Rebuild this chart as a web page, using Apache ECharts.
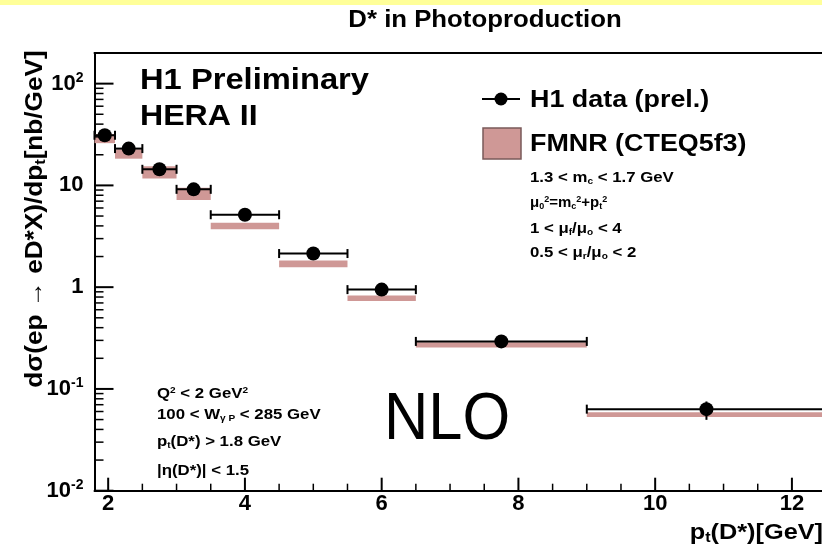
<!DOCTYPE html>
<html><head><meta charset="utf-8">
<script src="https://cdn.jsdelivr.net/npm/echarts@6/dist/echarts.min.js"></script>
<style>html,body{margin:0;padding:0;background:#fff}#c{width:822px;height:550px}</style>
</head><body><div id="c"></div>
<script>
// ---- data ----
const binLow    = [1.8, 2.1, 2.5, 3.0, 3.5, 4.5, 5.5, 6.5, 9.0];
const binHigh   = [2.1, 2.5, 3.0, 3.5, 4.5, 5.5, 6.5, 9.0, 12.5];
const ptCenter  = [1.95, 2.3, 2.75, 3.25, 4.0, 5.0, 6.0, 7.75, 10.75];
const h1Value   = [31.1, 23.0, 14.4, 9.15, 5.15, 2.14, 0.946, 0.293, 0.0633];
const h1ErrLow  = [2.0, 1.4, 0.9, 0.55, 0.3, 0.13, 0.06, 0.02, 0.0136];
const h1ErrHigh = [2.0, 1.4, 0.9, 0.55, 0.3, 0.13, 0.06, 0.02, 0.012];
const nloLow    = [26.0, 18.3, 11.7, 7.2, 3.7, 1.57, 0.73, 0.256, 0.053];
const nloHigh   = [32.0, 22.6, 15.4, 9.5, 4.3, 1.83, 0.83, 0.288, 0.059];
const xMajorTicks = [2, 4, 6, 8, 10, 12];
const xMinorTicks = [2.5, 3, 3.5, 4.5, 5, 5.5, 6.5, 7, 7.5, 8.5, 9, 9.5, 10.5, 11, 11.5];
const yDecades = [-2, -1, 0, 1, 2];
const yMinorMult = [2, 3, 4, 5, 6, 7, 8, 9];
const xMin = 1.8, xMax = 12.44, yMin = 0.01, yMax = 200;

const L = Math.log10;
const yMinorTicks = [];
yDecades.forEach(d => yMinorMult.forEach(m => { const v = L(m) + d; if (v < L(yMax)) yMinorTicks.push(v); }));

const FONT = '"Liberation Sans", Arial, Helvetica, sans-serif';
const BAND = '#cf9896';

const errData = ptCenter.map((c, i) => [binLow[i], binHigh[i], c, L(h1Value[i]), L(h1Value[i] - h1ErrLow[i]), L(h1Value[i] + h1ErrHigh[i])]);
const bandData = ptCenter.map((c, i) => [binLow[i], binHigh[i], L(nloLow[i]), L(nloHigh[i])]);
const pointData = ptCenter.map((c, i) => [c, L(h1Value[i])]);

// tick rows: [x, y, kind]; kind 1/2 = x major/minor, 3/4 = y major/minor (positions taken at interior values)
const tickRows = [];
xMajorTicks.forEach(v => tickRows.push([v, 0, 1]));
xMinorTicks.forEach(v => tickRows.push([v, 0, 2]));
yDecades.forEach(v => tickRows.push([5, v, 3]));
yMinorTicks.forEach(v => tickRows.push([5, v, 4]));
const TICK = { 1: [13, 2], 2: [7, 1.5], 3: [19, 2], 4: [9, 1.5] };

function txt(x, y, text, size, opts) {
  opts = opts || {};
  const s = opts.small || Math.round(size * 0.62);
  return {
    type: 'text', x: x, y: y, z: 100,
    scaleX: opts.sx || 1, scaleY: opts.sy || 1, rotation: opts.rot || 0,
    style: {
      text: text, fill: '#000',
      font: (opts.weight || 'bold') + ' ' + size + 'px ' + FONT,
      align: opts.align || 'left', textAlign: opts.align || 'left',
      verticalAlign: 'middle', textVerticalAlign: 'middle',
      rich: {
        sub: { fontSize: s, fontWeight: opts.weight || 'bold', fontFamily: FONT, padding: [Math.round(size * 0.45), 0, 0, 0] },
        sup: { fontSize: s, fontWeight: opts.weight || 'bold', fontFamily: FONT, padding: [0, 0, Math.round(size * 0.45), 0] }
      }
    }
  };
}

const chart = echarts.init(document.getElementById('c'));
const axisLine = { show: true, onZero: false, lineStyle: { color: '#000', width: 2 } };
chart.setOption({
  animation: false,
  grid: { left: 94.5, right: 0, top: 53, bottom: 59.3, show: false },
  xAxis: [
    { type: 'value', min: xMin, max: xMax, position: 'bottom', axisLine: axisLine, splitLine: { show: false },
      axisTick: { show: false },
      axisLabel: { customValues: xMajorTicks, margin: 2, color: '#000', fontSize: 22, fontWeight: 'bold', fontFamily: FONT } },
    { type: 'value', min: xMin, max: xMax, position: 'top', axisLine: axisLine, splitLine: { show: false },
      axisTick: { show: false }, axisLabel: { show: false } }
  ],
  yAxis: { type: 'value', min: L(yMin), max: L(yMax), position: 'left', axisLine: axisLine, splitLine: { show: false },
    axisTick: { show: false },
    axisLabel: { customValues: yDecades, margin: 11, color: '#000', fontSize: 22, fontWeight: 'bold', fontFamily: FONT,
      formatter: v => v === 0 ? '1' : (v === 1 ? '10' : '10{sup|' + v + '}'),
      rich: { sup: { fontSize: 14, fontWeight: 'bold', fontFamily: FONT, color: '#000', padding: [0, 0, 11, 0] } } } },
  series: [
    { name: 'FMNR (CTEQ5f3)', type: 'custom', z: 1,
      encode: { x: [0, 1], y: [2, 3] }, data: bandData,
      renderItem: (params, api) => {
        const a = api.coord([api.value(0), api.value(3)]);
        const b = api.coord([api.value(1), api.value(2)]);
        return { type: 'rect', shape: { x: a[0], y: a[1], width: b[0] - a[0], height: b[1] - a[1] }, style: { fill: BAND } };
      } },
    { name: 'H1 errors', type: 'custom', z: 2,
      encode: { x: [0, 1, 2], y: [3, 4, 5] }, data: errData,
      renderItem: (params, api) => {
        const pl = api.coord([api.value(0), api.value(3)]);
        const pr = api.coord([api.value(1), api.value(3)]);
        const lo = api.coord([api.value(2), api.value(4)]);
        const hi = api.coord([api.value(2), api.value(5)]);
        const st = { stroke: '#000', lineWidth: 2 };
        return { type: 'group', children: [
          { type: 'line', shape: { x1: pl[0], y1: pl[1], x2: pr[0], y2: pr[1] }, style: st },
          { type: 'line', shape: { x1: pl[0], y1: pl[1] - 4.5, x2: pl[0], y2: pl[1] + 4.5 }, style: st },
          { type: 'line', shape: { x1: pr[0], y1: pr[1] - 4.5, x2: pr[0], y2: pr[1] + 4.5 }, style: st },
          { type: 'line', shape: { x1: hi[0], y1: hi[1], x2: lo[0], y2: lo[1] }, style: st }
        ] };
      } },
    { name: 'axis ticks', type: 'custom', z: 4, clip: false,
      encode: { x: 0, y: 1 }, data: tickRows,
      renderItem: (params, api) => {
        const cs = params.coordSys;
        const k = api.value(2);
        const t = TICK[k];
        const p = api.coord([api.value(0), api.value(1)]);
        let shape;
        if (k <= 2) { const yb = cs.y + cs.height; shape = { x1: p[0], y1: yb, x2: p[0], y2: yb - t[0] }; }
        else { const xl = cs.x; shape = { x1: xl, y1: p[1], x2: xl + t[0], y2: p[1] }; }
        return { type: 'line', shape: shape, style: { stroke: '#000', lineWidth: t[1] } };
      } },
    { name: 'H1 data (prel.)', type: 'scatter', z: 3,
      symbol: 'circle', symbolSize: 14, itemStyle: { color: '#000', opacity: 1 }, data: pointData }
  ]
});

chart.setOption({ graphic: [
  { type: 'rect', shape: { x: 0, y: 0, width: 822, height: 5 }, style: { fill: '#ffff99' } },
  txt(485, 21, 'D* in Photoproduction', 23, { align: 'center', sx: 1.12 }),
  txt(140, 81, 'H1 Preliminary', 30, { sx: 1.09 }),
  txt(140, 117, 'HERA II', 30, { sx: 1.07 }),
  { type: 'line', shape: { x1: 482, y1: 99, x2: 520, y2: 99 }, style: { stroke: '#000', lineWidth: 2 } },
  { type: 'circle', shape: { cx: 501, cy: 99, r: 6.5 }, style: { fill: '#000' } },
  txt(530, 100, 'H1 data (prel.)', 24, { sx: 1.12 }),
  { type: 'rect', shape: { x: 483, y: 128, width: 38, height: 31 }, style: { fill: BAND, stroke: '#7a5a5a', lineWidth: 1.5 } },
  txt(530, 144, 'FMNR (CTEQ5f3)', 24, { sx: 1.12 }),
  txt(530, 178, '1.3 < m{sub|c} < 1.7 GeV', 15, { sx: 1.12 }),
  txt(530, 203, 'μ{sub|0}{sup|2}=m{sub|c}{sup|2}+p{sub|t}{sup|2}', 15, { sx: 1.0 }),
  txt(530, 229, '1 < μ{sub|f}/μ{sub|o} < 4', 15, { sx: 1.12 }),
  txt(530, 253, '0.5 < μ{sub|r}/μ{sub|o} < 2', 15, { sx: 1.12 }),
  txt(157, 394, 'Q{sup|2} < 2 GeV{sup|2}', 15, { sx: 1.12 }),
  txt(157, 415, '100 < W{sub|γ P} < 285 GeV', 15, { sx: 1.12 }),
  txt(157, 442, 'p{sub|t}(D*) > 1.8 GeV', 15, { sx: 1.12 }),
  txt(157, 471, '|η(D*)| < 1.5', 15, { sx: 1.12 }),
  txt(384, 421, 'NLO', 66, { weight: 'normal', sx: 0.93 }),
  txt(823, 533, 'p{sub|t}(D*)[GeV]', 22, { align: 'right', sx: 1.15 }),
  txt(35, 219, 'dσ(ep → eD*X)/dp{sub|t}[nb/GeV]', 24, { align: 'center', rot: Math.PI / 2, sx: 1.09 })
] });
</script>
</body></html>
